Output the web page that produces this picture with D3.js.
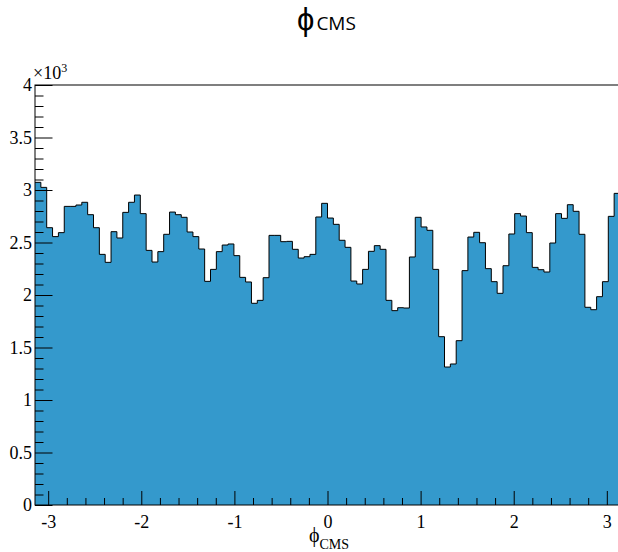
<!DOCTYPE html>
<html>
<head>
<meta charset="utf-8">
<script src="https://cdn.jsdelivr.net/npm/d3@7"></script>
<style>
  body { margin: 0; background: #fff; }
  svg { display: block; }
  .axis text { font-family: "Liberation Serif", "Times New Roman", serif; font-size: 18px; fill: #000; }
  .axis path { display: none; }
  .axis line { stroke: #000; stroke-width: 1; }
</style>
</head>
<body>
<svg id="chart" width="618" height="552"></svg>
<script>
// phi_CMS histogram: 100 bins between -pi and pi, entries per bin
const counts = [
  3073, 3025, 2641, 2556, 2594, 2844, 2844, 2857, 2883, 2765,
  2641, 2387, 2311, 2603, 2543, 2787, 2883, 2952, 2775, 2425,
  2314, 2413, 2578, 2790, 2765, 2740, 2600, 2556, 2438, 2130,
  2244, 2413, 2476, 2486, 2375, 2168, 2124, 1921, 1949, 2165,
  2568, 2568, 2508, 2511, 2435, 2352, 2365, 2387, 2743, 2873,
  2733, 2673, 2521, 2454, 2133, 2105, 2244, 2416, 2470, 2435,
  1949, 1851, 1879, 1876, 2362, 2740, 2648, 2616, 2244, 1603,
  1314, 1343, 1565, 2232, 2552, 2597, 2498, 2251, 2127, 2016,
  2279, 2581, 2775, 2752, 2594, 2263, 2241, 2219, 2495, 2775,
  2730, 2860, 2797, 2578, 1883, 1860, 1984, 2127, 2749, 2968
]
const xRange = [-Math.PI, Math.PI]
const yRange = [0, 4000]
const xMajor = [-3, -2, -1, 0, 1, 2, 3]
const yMajor = [0, 500, 1000, 1500, 2000, 2500, 3000, 3500, 4000]
const yLabels = ["0", "0.5", "1", "1.5", "2", "2.5", "3", "3.5", "4"]

const frame = {left: 35, top: 85, right: 620, bottom: 505}
const svg = d3.select('#chart')

const x = d3.scaleLinear().domain(xRange).range([frame.left, frame.right])
const y = d3.scaleLinear().domain(yRange).range([frame.bottom, frame.top])

// bin edges -> step points
const binW = (xRange[1] - xRange[0]) / counts.length
const steps = counts.map((c, i) => ({x: xRange[0] + i * binW, v: c}))
steps.push({x: xRange[1], v: counts[counts.length - 1]})

const area = d3.area()
  .curve(d3.curveStepAfter)
  .x(d => x(d.x))
  .y0(y(0))
  .y1(d => y(d.v))

const line = d3.line()
  .curve(d3.curveStepAfter)
  .x(d => x(d.x))
  .y(d => y(d.v))

svg.append('path')
  .datum(steps)
  .attr('d', area)
  .attr('fill', '#3499cc')

svg.append('path')
  .datum(steps)
  .attr('d', line)
  .attr('fill', 'none')
  .attr('stroke', '#000')
  .attr('stroke-width', 1)

// frame
svg.append('rect')
  .attr('x', frame.left).attr('y', frame.top)
  .attr('width', frame.right - frame.left).attr('height', frame.bottom - frame.top)
  .attr('fill', 'none').attr('stroke', '#000').attr('stroke-width', 1)

// y axis (ticks inside the frame)
const yMinor = d3.range(0, 4001, 100).filter(v => v % 500 !== 0)
svg.append('g').attr('class', 'axis')
  .attr('transform', `translate(${frame.left},0)`)
  .call(d3.axisLeft(y).tickValues(yMinor).tickSize(-8.5).tickFormat(''))
svg.append('g').attr('class', 'axis')
  .attr('transform', `translate(${frame.left},0)`)
  .call(d3.axisLeft(y).tickValues(yMajor).tickSizeInner(-17.5).tickSizeOuter(0)
    .tickPadding(3).tickFormat((d, i) => yLabels[i]))

// x axis
const xMinor = d3.range(-14, 15).map(k => k * 0.2).filter(v => Math.abs(v - Math.round(v)) > 1e-6)
svg.append('g').attr('class', 'axis')
  .attr('transform', `translate(0,${frame.bottom})`)
  .call(d3.axisBottom(x).tickValues(xMinor).tickSize(-7).tickFormat(''))
svg.append('g').attr('class', 'axis')
  .attr('transform', `translate(0,${frame.bottom})`)
  .call(d3.axisBottom(x).tickValues(xMajor).tickSizeInner(-14).tickSizeOuter(0)
    .tickPadding(10).tickFormat(d => d < 0 ? '-' + Math.abs(d) : d))

// exponent label
const expo = svg.append('text')
  .attr('x', 33).attr('y', 79)
  .attr('font-family', '"Liberation Serif", serif')
  .attr('font-size', 18)
expo.append('tspan').text('\u00d710')
expo.append('tspan').attr('font-size', 12).attr('dy', -7).text('3')

// axis title
const xt = svg.append('text')
  .attr('x', 309).attr('y', 542)
  .attr('font-family', '"Liberation Serif", serif')
  .attr('font-size', 20)
xt.append('tspan').text('\u03d5')
xt.append('tspan').attr('font-size', 14).attr('dy', 7).text('CMS')

// title
const title = svg.append('text')
  .attr('x', 297).attr('y', 30)
  .attr('font-family', '"Open Sans", "Liberation Sans", sans-serif')
  .attr('font-size', 19)
title.append('tspan').attr('font-size', 31).attr('font-family', '"Liberation Sans", sans-serif').text('\u03d5')
title.append('tspan').attr('dx', 2).text('CMS')
</script>
</body>
</html>
